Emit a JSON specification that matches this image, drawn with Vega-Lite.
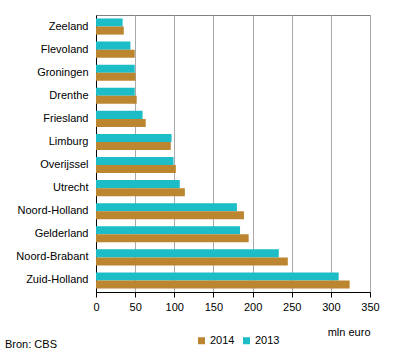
{
  "$schema": "https://vega.github.io/schema/vega-lite/v6.json",
  "width": 274,
  "height": 277,
  "autosize": "none",
  "padding": {"left": 96, "top": 15, "right": 26, "bottom": 65},
  "background": "white",
  "config": {
    "font": "Liberation Sans",
    "view": {"stroke": "#808080", "strokeWidth": 1},
    "axis": {"labelFont": "Liberation Sans", "titleFont": "Liberation Sans", "labelColor": "black", "titleColor": "black"},
    "legend": {"labelFont": "Liberation Sans"}
  },
  "title": {
    "text": "Bron: CBS",
    "orient": "bottom",
    "anchor": "start",
    "frame": "group",
    "dx": -91,
    "dy": -11,
    "offset": 4,
    "fontSize": 11,
    "fontWeight": "normal",
    "color": "black",
    "font": "Liberation Sans"
  },
  "data": {
    "values": [
      {"provincie": "Zeeland", "jaar": "2013", "waarde": 34},
      {"provincie": "Zeeland", "jaar": "2014", "waarde": 35.5},
      {"provincie": "Flevoland", "jaar": "2013", "waarde": 44},
      {"provincie": "Flevoland", "jaar": "2014", "waarde": 49.5},
      {"provincie": "Groningen", "jaar": "2013", "waarde": 49.5},
      {"provincie": "Groningen", "jaar": "2014", "waarde": 50.5},
      {"provincie": "Drenthe", "jaar": "2013", "waarde": 49.5},
      {"provincie": "Drenthe", "jaar": "2014", "waarde": 52},
      {"provincie": "Friesland", "jaar": "2013", "waarde": 59.5},
      {"provincie": "Friesland", "jaar": "2014", "waarde": 63.5},
      {"provincie": "Limburg", "jaar": "2013", "waarde": 96.5},
      {"provincie": "Limburg", "jaar": "2014", "waarde": 95.5},
      {"provincie": "Overijssel", "jaar": "2013", "waarde": 99},
      {"provincie": "Overijssel", "jaar": "2014", "waarde": 102},
      {"provincie": "Utrecht", "jaar": "2013", "waarde": 107},
      {"provincie": "Utrecht", "jaar": "2014", "waarde": 113.5},
      {"provincie": "Noord-Holland", "jaar": "2013", "waarde": 180},
      {"provincie": "Noord-Holland", "jaar": "2014", "waarde": 189},
      {"provincie": "Gelderland", "jaar": "2013", "waarde": 184},
      {"provincie": "Gelderland", "jaar": "2014", "waarde": 195},
      {"provincie": "Noord-Brabant", "jaar": "2013", "waarde": 233.5},
      {"provincie": "Noord-Brabant", "jaar": "2014", "waarde": 245},
      {"provincie": "Zuid-Holland", "jaar": "2013", "waarde": 310},
      {"provincie": "Zuid-Holland", "jaar": "2014", "waarde": 324}
    ]
  },
  "mark": {"type": "bar"},
  "encoding": {
    "y": {
      "field": "provincie",
      "type": "nominal",
      "sort": null,
      "scale": {"paddingInner": 0.3, "paddingOuter": 0.15},
      "axis": {
        "title": null,
        "ticks": false,
        "domainColor": "black",
        "domainWidth": 1,
        "labelFontSize": 11,
        "labelPadding": 8,
        "grid": false
      }
    },
    "yOffset": {
      "field": "jaar",
      "type": "nominal",
      "sort": ["2013", "2014"],
      "scale": {"paddingInner": 0, "paddingOuter": 0}
    },
    "x": {
      "field": "waarde",
      "type": "quantitative",
      "scale": {"domain": [0, 350], "nice": false},
      "axis": {
        "values": [0, 50, 100, 150, 200, 250, 300, 350],
        "title": "mln euro",
        "titleAnchor": "end",
        "titleAlign": "right",
        "titleFontWeight": "normal",
        "titleFontSize": 11,
        "titlePadding": 14,
        "grid": true,
        "gridColor": "#aaaaaa",
        "gridWidth": 1,
        "domainColor": "black",
        "tickColor": "black",
        "tickSize": 5,
        "labelFontSize": 11,
        "labelPadding": 4,
        "labelFlush": false
      }
    },
    "color": {
      "field": "jaar",
      "type": "nominal",
      "scale": {"domain": ["2014", "2013"], "range": ["#bc8631", "#1dbdc7"]},
      "legend": {
        "title": null,
        "orient": "none",
        "direction": "horizontal",
        "legendX": 100,
        "legendY": 320,
        "symbolType": "square",
        "symbolSize": 49,
        "symbolStrokeWidth": 0,
        "labelFontSize": 11,
        "labelOffset": 3,
        "columnPadding": 6
      }
    }
  }
}
